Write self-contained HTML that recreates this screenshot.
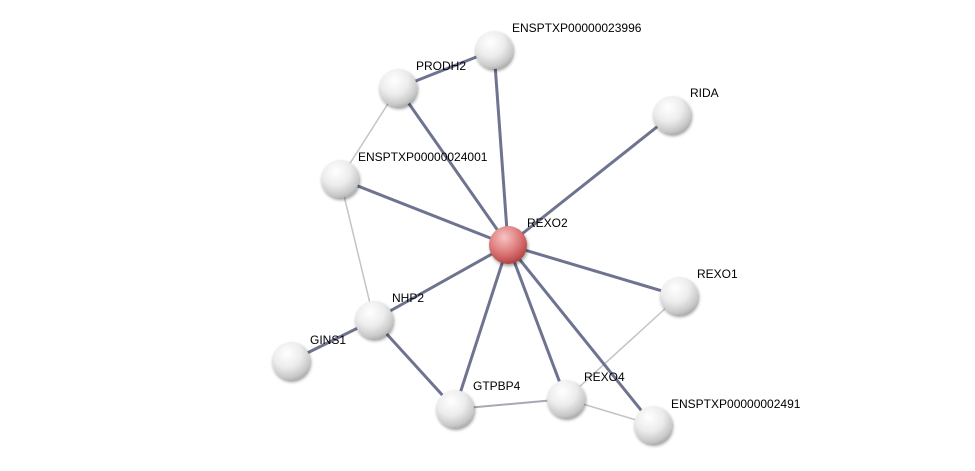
<!DOCTYPE html>
<html><head><meta charset="utf-8"><style>
html,body{margin:0;padding:0;background:#fff;width:975px;height:471px;overflow:hidden}
text{font-family:"Liberation Sans",sans-serif;font-size:12px;fill:#000}
</style></head><body>
<svg width="975" height="471" viewBox="0 0 975 471" xmlns="http://www.w3.org/2000/svg">
<defs>
<radialGradient id="g" cx="0.4" cy="0.3" r="0.75">
<stop offset="0" stop-color="#ffffff"/><stop offset="0.5" stop-color="#ececec"/><stop offset="0.85" stop-color="#c8c8c8"/><stop offset="1" stop-color="#a8a8a8"/></radialGradient>
<radialGradient id="r" cx="0.4" cy="0.3" r="0.75">
<stop offset="0" stop-color="#f6c4c4"/><stop offset="0.5" stop-color="#e08080"/><stop offset="0.85" stop-color="#c05050"/><stop offset="1" stop-color="#a03a3a"/></radialGradient>
<filter id="s" x="-30%" y="-30%" width="160%" height="160%"><feGaussianBlur in="SourceAlpha" stdDeviation="1.5"/><feOffset dx="1" dy="2"/><feComponentTransfer><feFuncA type="linear" slope="0.4"/></feComponentTransfer><feMerge><feMergeNode/><feMergeNode in="SourceGraphic"/></feMerge></filter>
</defs>
<g stroke="#c4c4c8" stroke-width="1.5">
<line x1="398" y1="88" x2="340" y2="179"/>
<line x1="340" y1="179" x2="374" y2="320"/>
<line x1="679" y1="296" x2="566" y2="399"/>
<line x1="455" y1="409" x2="566" y2="399" stroke="#a8a8b4" stroke-width="2"/>
<line x1="566" y1="399" x2="653" y2="425"/>
</g>
<g stroke="#6e7390" stroke-width="3">
<line x1="508" y1="245" x2="494" y2="50"/>
<line x1="508" y1="245" x2="398" y2="88"/>
<line x1="508" y1="245" x2="672" y2="115"/>
<line x1="508" y1="245" x2="340" y2="179"/>
<line x1="508" y1="245" x2="679" y2="296"/>
<line x1="508" y1="245" x2="374" y2="320"/>
<line x1="508" y1="245" x2="455" y2="409"/>
<line x1="508" y1="245" x2="566" y2="399"/>
<line x1="508" y1="245" x2="653" y2="425"/>
<line x1="398" y1="88" x2="494" y2="50"/>
<line x1="374" y1="320" x2="291" y2="361"/>
<line x1="374" y1="320" x2="455" y2="409"/>
</g>
<g filter="url(#s)" fill="url(#g)">
<circle cx="494" cy="50" r="19"/>
<circle cx="398" cy="88" r="19"/>
<circle cx="672" cy="115" r="19"/>
<circle cx="340" cy="179" r="19"/>
<circle cx="679" cy="296" r="19"/>
<circle cx="374" cy="320" r="19"/>
<circle cx="291" cy="361" r="19"/>
<circle cx="455" cy="409" r="19"/>
<circle cx="566" cy="399" r="19"/>
<circle cx="653" cy="425" r="19"/>
<circle cx="508" cy="245" r="19" fill="url(#r)"/>
</g>
<text x="512" y="32">ENSPTXP00000023996</text>
<text x="416" y="70">PRODH2</text>
<text x="690" y="97">RIDA</text>
<text x="358" y="161">ENSPTXP00000024001</text>
<text x="527" y="227">REXO2</text>
<text x="697" y="278">REXO1</text>
<text x="392" y="302">NHP2</text>
<text x="310" y="344">GINS1</text>
<text x="473" y="390">GTPBP4</text>
<text x="584" y="381">REXO4</text>
<text x="671" y="408">ENSPTXP00000002491</text>
</svg>
</body></html>
